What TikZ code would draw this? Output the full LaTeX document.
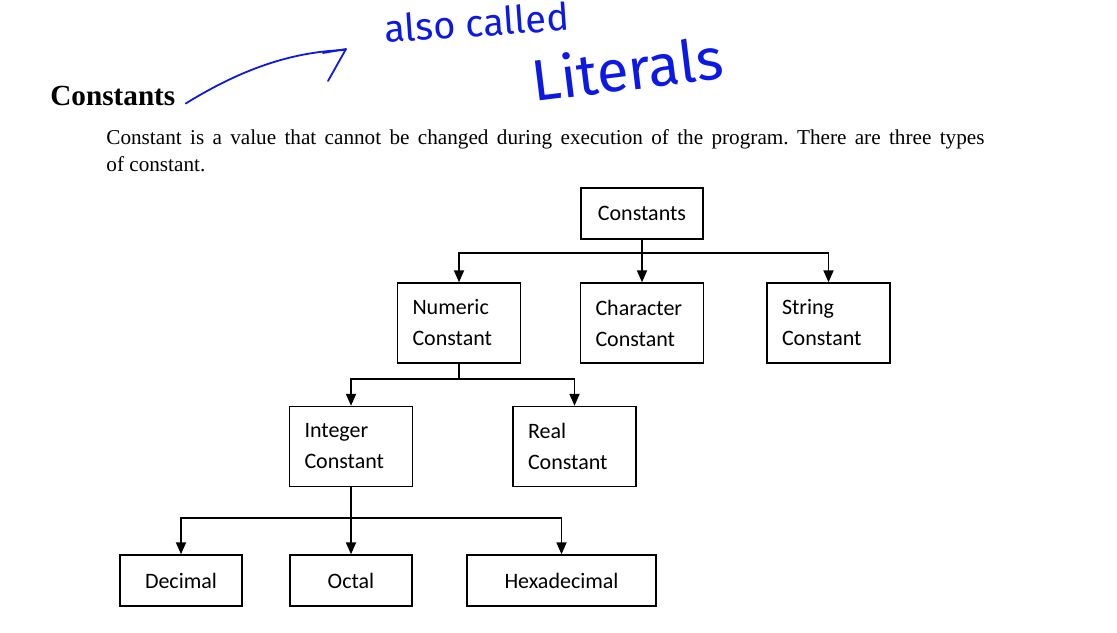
\documentclass[tikz,border=0pt]{standalone}
\usepackage{fontspec}
\setmainfont{Liberation Serif}
\newfontfamily\boxfont{Carlito}
\newfontfamily\handfont{Fira Sans}
\usetikzlibrary{arrows.meta,positioning,calc}
\definecolor{handblue}{RGB}{12,24,228}
\tikzset{
  cbox/.style={draw,line width=0.7pt,inner sep=0pt,font=\boxfont\fontsize{11}{15.5}\selectfont},
  twoline/.style={cbox,align=left,text width=46.5pt,inner xsep=7.5pt,minimum height=40pt},
  oneline/.style={cbox,align=center,minimum width=61pt,minimum height=25.5pt},
  conn/.style={line width=0.9pt,-{Triangle[length=6pt,width=5pt]}},
  handpen/.style={draw=handblue,line width=0.9pt,line cap=round,line join=round},
}

\begin{document}
\frenchspacing
\begin{tikzpicture}[x=0.5pt,y=-0.5pt]
  \useasboundingbox (0,0) rectangle (1117,632);
  % heading and text
  \node[anchor=base west,inner sep=0pt,font=\bfseries\fontsize{14.6}{17}\selectfont] (title) at (50,105) {Constants};
  \node[anchor=north west,inner sep=0pt,text width=439pt,align=justify,
        font=\fontsize{10.6}{13.5}\selectfont] (intro) at (106,129)
    {Constant is a value that cannot be changed during execution of the program. There are three types\linebreak of constant.};
  % handwritten note
  \node[anchor=base west,inner sep=0pt,text=handblue,rotate=4,font=\handfont\fontsize{19}{19}\selectfont] (hand1) at (385,43) {also called};
  \node[anchor=base west,inner sep=0pt,text=handblue,rotate=7,font=\handfont\fontsize{29}{29}\selectfont] (hand2) at (534,102) {Literals};
  \coordinate (handtip) at (344,50);
  \path[handpen] ([xshift=5pt,yshift=-4pt]title.east) .. controls (240,70) and (290,52) .. (handtip);
  \path[handpen] (323,53) -- (346,49) -- (328,81);
  % tree
  \node[oneline] (const) at (642,213.5) {Constants};
  \node[twoline] (num) at (459,323) {Numeric\\Constant};
  \node[twoline] (chr) at (642,323) {Character\\Constant};
  \node[twoline] (str) at (828.5,323) {String\\Constant};
  \node[twoline] (intg) at (351,446.5) {Integer\\Constant};
  \node[twoline] (real) at (574.5,446.5) {Real\\Constant};
  \node[oneline] (dec) at (181,580.5) {Decimal};
  \node[oneline] (oct) at (351,580.5) {Octal};
  \node[oneline,minimum width=94.5pt] (hex) at (561.5,580.5) {Hexadecimal};

  \path (const.south) ++(0,13) coordinate (j1);
  \draw[conn] (const.south) -- (chr.north);
  \draw[conn] (j1) -| (num.north);
  \draw[conn] (j1) -| (str.north);

  \path (num.south) ++(0,15) coordinate (j2);
  \draw[line width=0.9pt] (num.south) -- (j2);
  \draw[conn] (j2) -| (intg.north);
  \draw[conn] (j2) -| (real.north);

  \path (intg.south) ++(0,31) coordinate (j3);
  \draw[conn] (intg.south) -- (oct.north);
  \draw[conn] (j3) -| (dec.north);
  \draw[conn] (j3) -| (hex.north);
\end{tikzpicture}
\end{document}
